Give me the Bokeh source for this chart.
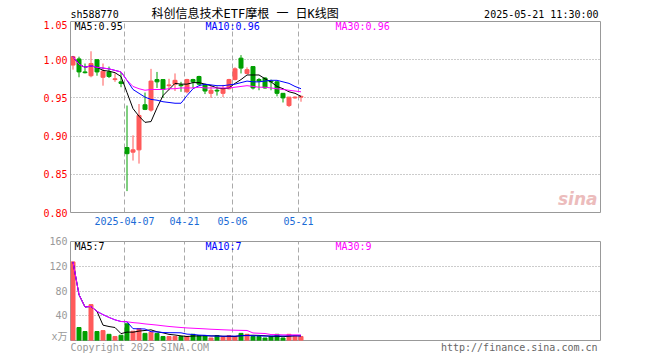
from bokeh.plotting import figure
from bokeh.models import Range1d, FixedTicker, Label, ColumnDataSource, PrintfTickFormatter
from bokeh.layouts import column
from bokeh.embed import file_html
from bokeh.resources import INLINE
from bokeh.transform import dodge

# ---------------- data ----------------
dates = ["2025-03-24", "2025-03-25", "2025-03-26", "2025-03-27", "2025-03-28", "2025-03-31",
         "2025-04-01", "2025-04-02", "2025-04-03", "2025-04-07", "2025-04-08", "2025-04-09",
         "2025-04-10", "2025-04-11", "2025-04-14", "2025-04-15", "2025-04-16", "2025-04-17",
         "2025-04-18", "2025-04-21", "2025-04-22", "2025-04-23", "2025-04-24", "2025-04-25",
         "2025-04-28", "2025-04-29", "2025-04-30", "2025-05-06", "2025-05-07", "2025-05-08",
         "2025-05-09", "2025-05-12", "2025-05-13", "2025-05-14", "2025-05-15", "2025-05-16",
         "2025-05-19", "2025-05-20", "2025-05-21"]

open_ = [0.993, 1.001, 0.984, 0.979, 1.000, 0.977, 0.984, 0.974, 0.971, 0.885,
         0.879, 0.882, 0.941, 0.934, 0.974, 0.974, 0.966, 0.968, 0.967, 0.958,
         0.974, 0.978, 0.967, 0.956, 0.960, 0.956, 0.962, 0.974, 1.002, 0.982,
         0.991, 0.974, 0.976, 0.972, 0.971, 0.956, 0.940, 0.950, 0.951]
close_ = [1.004, 0.984, 0.983, 0.995, 0.984, 0.985, 0.978, 0.975, 0.969, 0.877,
          0.882, 0.927, 0.935, 0.972, 0.971, 0.961, 0.967, 0.973, 0.966, 0.974,
          0.971, 0.968, 0.959, 0.960, 0.959, 0.962, 0.974, 0.988, 0.989, 0.987,
          0.963, 0.972, 0.963, 0.971, 0.956, 0.950, 0.951, 0.951, 0.952]
high_ = [1.005, 1.004, 0.995, 1.011, 1.000, 0.995, 0.991, 0.982, 0.984, 0.940,
         0.901, 0.942, 0.957, 0.988, 0.984, 0.974, 0.975, 0.982, 0.971, 0.975,
         0.975, 0.979, 0.968, 0.966, 0.965, 0.967, 0.975, 0.990, 1.006, 0.990,
         0.991, 0.976, 0.977, 0.974, 0.972, 0.956, 0.951, 0.952, 0.953]
low_ = [0.987, 0.977, 0.982, 0.977, 0.979, 0.966, 0.976, 0.971, 0.964, 0.828,
        0.868, 0.864, 0.934, 0.932, 0.963, 0.950, 0.960, 0.959, 0.958, 0.956,
        0.963, 0.967, 0.955, 0.950, 0.953, 0.951, 0.961, 0.973, 0.982, 0.981,
        0.961, 0.960, 0.962, 0.960, 0.952, 0.944, 0.938, 0.949, 0.945]

ma5 = [1.004, 0.994, 0.990, 0.992, 0.990, 0.986, 0.985, 0.983, 0.978, 0.957,
       0.936, 0.926, 0.918, 0.919, 0.937, 0.953, 0.961, 0.969, 0.968, 0.968,
       0.970, 0.970, 0.968, 0.966, 0.963, 0.962, 0.963, 0.969, 0.974, 0.980,
       0.980, 0.980, 0.975, 0.971, 0.965, 0.962, 0.958, 0.956, 0.952]
ma10 = [1.004, 0.994, 0.990, 0.992, 0.990, 0.989, 0.988, 0.986, 0.984, 0.973,
        0.961, 0.956, 0.951, 0.948, 0.947, 0.945, 0.944, 0.943, 0.943, 0.953,
        0.962, 0.966, 0.968, 0.967, 0.966, 0.966, 0.967, 0.968, 0.970, 0.972,
        0.971, 0.971, 0.972, 0.973, 0.973, 0.971, 0.969, 0.965, 0.962]
ma30 = [1.004, 0.994, 0.990, 0.992, 0.990, 0.989, 0.988, 0.986, 0.984, 0.973,
        0.965, 0.962, 0.960, 0.961, 0.961, 0.961, 0.962, 0.962, 0.963, 0.963,
        0.963, 0.964, 0.963, 0.963, 0.963, 0.963, 0.963, 0.964, 0.965, 0.966,
        0.965, 0.964, 0.964, 0.963, 0.962, 0.961, 0.960, 0.959, 0.958]

volume = [127, 21, 14.5, 58, 14.5, 16, 10, 6.5, 8.5, 27,
          15, 19, 11.5, 13.5, 11.5, 6.5, 6.5, 6.5, 6.5, 6.5,
          10, 8, 8, 4, 8, 5.5, 8, 6.5, 11.5, 10,
          6.5, 6.5, 4, 6.5, 10, 4, 10, 8, 6.5]
vol_ma5 = [127, 74, 54.2, 55.1, 47, 24.8, 22.6, 21, 11.1, 13.6,
           13.4, 15.2, 16.2, 17.2, 14.1, 12.4, 9.9, 8.9, 7.5, 6.5,
           7.2, 7.5, 7.8, 7.3, 7.6, 6.7, 6.7, 6.4, 7.9, 8.3,
           8.5, 8.2, 7.7, 6.7, 6.7, 6.2, 6.9, 7.7, 7.7]
vol_ma10 = [127, 74, 54.2, 55.1, 47, 41.8, 37.3, 33.4, 30.7, 30.3,
            19.1, 18.9, 18.6, 14.2, 13.9, 12.9, 12.6, 12.6, 12.4, 10.3,
            9.8, 8.7, 8.4, 7.4, 7.1, 7.0, 7.1, 7.1, 7.6, 8.0,
            7.6, 7.5, 7.1, 7.3, 7.5, 7.4, 7.6, 7.7, 7.2]
vol_ma30 = [127, 74, 54.2, 55.1, 47, 41.8, 37.3, 33.4, 30.7, 30.3,
            28.9, 28.1, 26.8, 25.9, 24.9, 23.75, 22.7, 21.8, 21.0, 20.3,
            19.8, 19.3, 18.8, 18.2, 17.8, 17.3, 16.9, 16.6, 16.4, 16.2,
            12.2, 11.7, 11.3, 9.6, 9.5, 9.1, 9.1, 9.1, 9.05]

tick_dates = {"2025-04-07": "2025-04-07", "2025-04-21": "04-21",
              "2025-05-06": "05-06", "2025-05-21": "05-21"}
price_ticks = [0.80, 0.85, 0.90, 0.95, 1.00, 1.05]
price_grid = [0.85, 0.90, 0.95, 1.00]
vol_ticks = [0, 40, 80, 120, 160]
vol_grid = [40, 80, 120]

symbol = "sh588770"
title_text = "科创信息技术ETF摩根 一 日K线图"
stamp = "2025-05-21 11:30:00"

# ---------------- styling ----------------
RED = "#ff5a5a"
GREEN = "#009f00"
MONO = "DejaVu Sans Mono"
W = 652
FL, FR = 70, 52            # frame left / right borders
SLOTS = 530 / 6.0          # number of day-slots visible in the frame
BODY = 4 / 6.0             # body width (plus 1px outline)
OFF = 5 / 12.0             # candle center offset inside its slot

n = len(dates)
idx = list(range(n))
color = [RED if c >= o else GREEN for o, c in zip(open_, close_)]
src = ColumnDataSource(dict(
    idx=idx, open=open_, close=close_, high=high_, low=low_,
    top=[max(o, c) for o, c in zip(open_, close_)],
    bottom=[min(o, c) for o, c in zip(open_, close_)],
    color=color, ma5=ma5, ma10=ma10, ma30=ma30,
    vol=volume, vma5=vol_ma5, vma10=vol_ma10, vma30=vol_ma30,
))

tick_idx = [dates.index(d) for d in tick_dates]
tick_over = {dates.index(d): lab for d, lab in tick_dates.items()}

xr = Range1d(0, SLOTS)
xc = dodge("idx", OFF, range=xr)


def lab(p, x, y, text, col="black", size="10px", font=MONO, align="left", style="normal"):
    p.add_layout(Label(x=x, y=y, x_units="screen", y_units="screen", text=text,
                       text_color=col, text_font_size=size, text_font=font,
                       text_align=align, text_baseline="middle", text_font_style=style))


def strip(h):
    s = figure(width=W, height=h, x_range=Range1d(0, 1), y_range=Range1d(0, 1),
               x_axis_type=None, y_axis_type=None, output_backend="svg",
               toolbar_location=None, tools="", min_border=0)
    s.min_border_left = FL
    s.min_border_right = FR
    s.outline_line_color = None
    s.background_fill_color = "white"
    s.border_fill_color = "white"
    return s


# ---------------- header (frame aligned with the panels: x from 70) ----------------
head = strip(20)
lab(head, 0, 6.5, symbol)
lab(head, 81, 7, title_text, size="12px", font=MONO + ", Noto Sans CJK SC")
lab(head, 528, 6.5, stamp, align="right")

# ---------------- price panel ----------------
p1 = figure(width=W, height=210, x_range=xr, y_range=Range1d(0.80, 1.05),
            output_backend="svg", toolbar_location=None, tools="")
p1.min_border_left = FL
p1.min_border_right = FR
p1.min_border_top = 1
p1.min_border_bottom = 18
p1.background_fill_color = "white"
p1.border_fill_color = "white"
p1.outline_line_color = "#999999"
p1.outline_line_width = 1

p1.segment(x0=xc, y0="high", x1=xc, y1="low", line_color="color", line_width=1, source=src)
p1.vbar(x=xc, width=BODY, top="top", bottom="bottom", fill_color="color",
        line_color="color", line_width=1, source=src)
p1.line(x=xc, y="ma5", line_color="black", line_width=1, source=src)
p1.line(x=xc, y="ma10", line_color="#0000ff", line_width=1, source=src)
p1.line(x=xc, y="ma30", line_color="#ff00ff", line_width=1, source=src)

for ax in (p1.yaxis, p1.xaxis):
    ax.axis_line_color = None
    ax.major_tick_line_color = None
    ax.minor_tick_line_color = None
    ax.major_tick_out = 0
    ax.major_tick_in = 0
    ax.minor_tick_out = 0
    ax.major_label_text_font = MONO
    ax.major_label_text_font_size = "10px"

p1.yaxis.ticker = FixedTicker(ticks=price_ticks)
p1.yaxis.formatter = PrintfTickFormatter(format="%.2f")
p1.yaxis.major_label_text_color = "#ff0000"
p1.yaxis.major_label_standoff = 3

p1.xaxis.ticker = FixedTicker(ticks=tick_idx)
p1.xaxis.major_label_overrides = tick_over
p1.xaxis.major_label_text_color = "#1a6bd6"
p1.xaxis.major_label_standoff = 4

p1.ygrid.ticker = FixedTicker(ticks=price_grid)
p1.ygrid.grid_line_color = "#999999"
p1.ygrid.grid_line_dash = "1 2"
p1.xgrid.ticker = FixedTicker(ticks=tick_idx)
p1.xgrid.grid_line_color = "#aaaaaa"
p1.xgrid.grid_line_dash = "5 3"

lab(p1, 4, 186, "MA5:%.2f" % ma5[-1])
lab(p1, 135, 186, "MA10:%.2f" % ma10[-1], col="#0000ff")
lab(p1, 265, 186, "MA30:%.2f" % ma30[-1], col="#ff00ff")
lab(p1, 527, 14, "sina", col="#ecbcbc", size="17px", font="DejaVu Sans", align="right",
    style="bold italic")

# ---------------- volume panel ----------------
p2 = figure(width=W, height=111, x_range=xr, y_range=Range1d(0, 160),
            output_backend="svg", toolbar_location=None, tools="")
p2.min_border_left = FL
p2.min_border_right = FR
p2.min_border_top = 11
p2.min_border_bottom = 1
p2.background_fill_color = "white"
p2.border_fill_color = "white"
p2.outline_line_color = "#999999"
p2.outline_line_width = 1

p2.vbar(x=xc, width=BODY, top="vol", bottom=0, fill_color="color",
        line_color="color", line_width=1, source=src)
p2.line(x=xc, y="vma5", line_color="black", line_width=1, source=src)
p2.line(x=xc, y="vma10", line_color="#0000ff", line_width=1, source=src)
p2.line(x=xc, y="vma30", line_color="#ff00ff", line_width=1, source=src)

p2.yaxis.ticker = FixedTicker(ticks=vol_ticks)
p2.yaxis.major_label_overrides = {0: "x万"}
p2.yaxis.axis_line_color = None
p2.yaxis.major_tick_line_color = None
p2.yaxis.minor_tick_line_color = None
p2.yaxis.major_tick_out = 0
p2.yaxis.major_tick_in = 0
p2.yaxis.minor_tick_out = 0
p2.yaxis.major_label_text_color = "#999999"
p2.yaxis.major_label_text_font = MONO + ", Noto Sans CJK SC"
p2.yaxis.major_label_text_font_size = "10px"
p2.yaxis.major_label_standoff = 3
p2.xaxis.visible = False

p2.ygrid.ticker = FixedTicker(ticks=vol_grid)
p2.ygrid.grid_line_color = "#999999"
p2.ygrid.grid_line_dash = "1 2"
p2.xgrid.ticker = FixedTicker(ticks=tick_idx)
p2.xgrid.grid_line_color = "#aaaaaa"
p2.xgrid.grid_line_dash = "5 3"

lab(p2, 4, 94, "MA5:%d" % int(vol_ma5[-1]))
lab(p2, 135, 94, "MA10:%d" % int(vol_ma10[-1]), col="#0000ff")
lab(p2, 265, 94, "MA30:%d" % int(vol_ma30[-1]), col="#ff00ff")

# ---------------- footer ----------------
foot = strip(13)
lab(foot, 0, 7, "Copyright 2025 SINA.COM", col="#999999")
lab(foot, 527, 7, "http://finance.sina.com.cn", col="#666666", align="right")

layout = column(head, p1, p2, foot)
open("out.html", "w").write(file_html(layout, INLINE))
